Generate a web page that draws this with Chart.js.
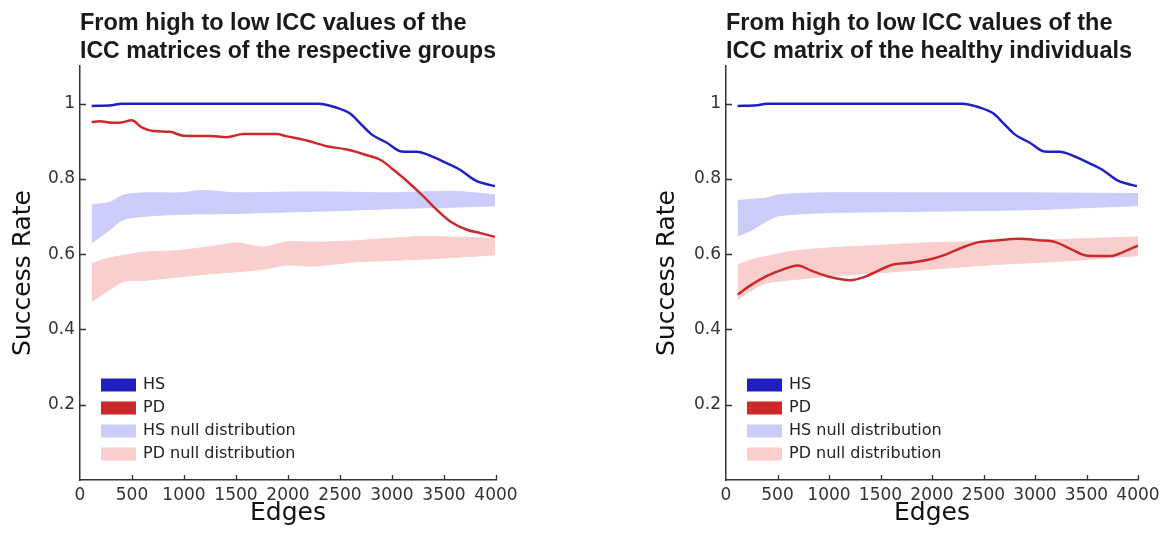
<!DOCTYPE html>
<html>
<head>
<meta charset="utf-8">
<script src="https://cdn.jsdelivr.net/npm/chart.js@4"></script>
<style>
  html, body { margin: 0; padding: 0; background: #ffffff; }
  #c1 { position: absolute; left: 0px; top: 0px; }
  #c2 { position: absolute; left: 645px; top: 0px; }
</style>
</head>
<body>
<canvas id="c1" width="560" height="540"></canvas>
<canvas id="c2" width="522" height="540"></canvas>
<script>
// ---------------- data ----------------
const titleLeft = ['From high to low ICC values of the', 'ICC matrices of the respective groups'];
const titleRight = ['From high to low ICC values of the', 'ICC matrix of the healthy individuals'];
const legendNames = ['HS', 'PD', 'HS null distribution', 'PD null distribution'];
const xTickValues = [0, 500, 1000, 1500, 2000, 2500, 3000, 3500, 4000];
const yTickValues = [0.2, 0.4, 0.6, 0.8, 1];

// HS success rate (same in both panels)
const hsEdges = [112, 304, 400, 1000, 2290, 2470, 2600, 2690, 2800, 2950, 3090, 3240, 3365, 3525, 3650, 3800, 3895, 3990];
const hsRate  = [0.994, 0.996, 1.0, 1.0, 1.0, 0.989, 0.973, 0.949, 0.919, 0.896, 0.873, 0.872, 0.862, 0.842, 0.825, 0.796, 0.787, 0.781];

// Left panel: PD
const pdLeftEdges = [112, 192, 304, 400, 497, 593, 705, 865, 994, 1250, 1410, 1570, 1890, 1990, 2180, 2370, 2565, 2760, 2900, 3010, 3140, 3300, 3430, 3560, 3720, 3850, 3990];
const pdLeftRate  = [0.951, 0.953, 0.949, 0.950, 0.956, 0.937, 0.927, 0.925, 0.915, 0.914, 0.911, 0.919, 0.919, 0.913, 0.902, 0.887, 0.878, 0.863, 0.849, 0.825, 0.795, 0.754, 0.718, 0.687, 0.665, 0.656, 0.646];

// Left panel: null distribution envelopes
const hsNullLeftEdges = [112, 288, 417, 641, 961, 1186, 1442, 1603, 1987, 2500, 2981, 3590, 3990];
const hsNullLeftLow   = [0.630, 0.665, 0.692, 0.701, 0.706, 0.707, 0.708, 0.709, 0.712, 0.716, 0.721, 0.725, 0.729];
const hsNullLeftHigh  = [0.731, 0.738, 0.757, 0.763, 0.763, 0.769, 0.764, 0.763, 0.765, 0.765, 0.763, 0.767, 0.758];
const pdNullLeftEdges = [112, 256, 417, 641, 961, 1346, 1506, 1763, 1987, 2211, 2500, 2660, 2981, 3301, 3990];
const pdNullLeftLow   = [0.474, 0.500, 0.527, 0.531, 0.540, 0.550, 0.553, 0.560, 0.571, 0.568, 0.575, 0.580, 0.583, 0.587, 0.598];
const pdNullLeftHigh  = [0.575, 0.588, 0.597, 0.606, 0.610, 0.624, 0.630, 0.619, 0.633, 0.632, 0.634, 0.636, 0.642, 0.647, 0.642];

// Right panel: PD
const pdRightEdges = [113, 226, 388, 549, 694, 840, 1001, 1211, 1357, 1615, 1809, 2003, 2132, 2326, 2455, 2649, 2842, 3036, 3198, 3359, 3505, 3731, 3876, 4000];
const pdRightRate  = [0.493, 0.515, 0.541, 0.559, 0.570, 0.555, 0.540, 0.531, 0.541, 0.572, 0.578, 0.588, 0.599, 0.621, 0.632, 0.637, 0.641, 0.637, 0.632, 0.612, 0.596, 0.595, 0.608, 0.623];

// Right panel: null distribution envelopes
const hsNullRightEdges = [113, 258, 388, 517, 969, 1938, 2907, 4000];
const hsNullRightLow   = [0.648, 0.665, 0.687, 0.702, 0.710, 0.714, 0.718, 0.729];
const hsNullRightHigh  = [0.743, 0.746, 0.749, 0.758, 0.763, 0.763, 0.763, 0.761];
const pdNullRightEdges = [113, 258, 388, 646, 969, 1453, 1938, 2584, 3230, 4000];
const pdNullRightLow   = [0.479, 0.506, 0.523, 0.532, 0.541, 0.550, 0.559, 0.572, 0.581, 0.596];
const pdNullRightHigh  = [0.572, 0.586, 0.594, 0.608, 0.616, 0.623, 0.630, 0.634, 0.639, 0.646];

// ---------------- styling ----------------
const COL_HS = 'rgb(32,32,192)';
const COL_PD = 'rgb(204,42,42)';
const COL_HS_NULL = 'rgb(204,204,250)';
const COL_PD_NULL = 'rgb(251,206,206)';
const legendColors = [COL_HS, COL_PD, COL_HS_NULL, COL_PD_NULL];
const FONT = '"DejaVu Sans", "Liberation Sans", sans-serif';

Chart.defaults.font.family = FONT;
Chart.defaults.color = '#222';

function pts(xs, ys) { return xs.map((x, i) => ({ x: x, y: ys[i] })); }

function lineDs(label, xs, ys, color) {
  return { label, data: pts(xs, ys), borderColor: color, backgroundColor: color,
           borderWidth: 2.5, pointRadius: 0, fill: false, cubicInterpolationMode: 'monotone' };
}
function bandDs(label, xs, ys, color, fillTarget) {
  return { label, data: pts(xs, ys), borderColor: color, backgroundColor: color,
           borderWidth: 1, pointRadius: 0, tension: 0.3,
           fill: fillTarget === null ? false : { target: fillTarget } };
}

const insetLegend = {
  id: 'insetLegend',
  afterDraw(chart) {
    const { ctx, chartArea } = chart;
    ctx.save();
    ctx.font = '16px ' + FONT;
    ctx.textBaseline = 'middle';
    ctx.textAlign = 'left';
    legendNames.forEach((name, i) => {
      const cy = chartArea.bottom - 95 + i * 23;
      ctx.fillStyle = legendColors[i];
      ctx.fillRect(chartArea.left + 21, cy - 6.5, 35, 13);
      ctx.fillStyle = '#222';
      ctx.fillText(name, chartArea.left + 63, cy);
    });
    ctx.restore();
  }
};

const inwardTicks = {
  id: 'inwardTicks',
  afterDraw(chart) {
    const { ctx, chartArea, scales } = chart;
    ctx.save();
    ctx.strokeStyle = '#333';
    ctx.lineWidth = 1.3;
    ctx.beginPath();
    yTickValues.forEach(v => {
      const y = Math.round(scales.y.getPixelForValue(v)) + 0.5;
      ctx.moveTo(chartArea.left, y); ctx.lineTo(chartArea.left + 6, y);
    });
    xTickValues.forEach(v => {
      if (v === 0) return;
      const x = Math.round(scales.x.getPixelForValue(v)) + 0.5;
      ctx.moveTo(x, chartArea.bottom); ctx.lineTo(x, chartArea.bottom - 5);
    });
    ctx.stroke();
    ctx.restore();
  }
};

function makeChart(canvasId, titleLines, pdEdges, pdRate, hsNE, hsNL, hsNH, pdNE, pdNL, pdNH, yAxisWidth, padRight, yTitlePad) {
  return new Chart(document.getElementById(canvasId), {
    type: 'line',
    data: {
      datasets: [
        lineDs('HS', hsEdges, hsRate, COL_HS),
        lineDs('PD', pdEdges, pdRate, COL_PD),
        bandDs('HS null distribution (low)', hsNE, hsNL, COL_HS_NULL, null),
        bandDs('HS null distribution', hsNE, hsNH, COL_HS_NULL, 2),
        bandDs('PD null distribution (low)', pdNE, pdNL, COL_PD_NULL, null),
        bandDs('PD null distribution', pdNE, pdNH, COL_PD_NULL, 4)
      ]
    },
    options: {
      responsive: false,
      animation: false,
      layout: { padding: { left: 0, right: padRight, top: 0, bottom: 0 } },
      plugins: {
        legend: { display: false },
        tooltip: { enabled: false },
        title: {
          display: true,
          text: titleLines,
          align: 'start',
          fullSize: false,
          color: '#1a1a1a',
          font: { family: '"Liberation Sans", Arial, sans-serif', size: 23.5, weight: 'bold', lineHeight: '28px' },
          padding: { top: 10, bottom: 0 }
        }
      },
      scales: {
        x: {
          type: 'linear',
          min: 0, max: 4000,
          afterBuildTicks(scale) { scale.ticks = xTickValues.map(v => ({ value: v })); },
          afterFit(scale) { scale.height = 60; },
          ticks: { color: '#333', font: { size: 17 }, padding: 5, maxRotation: 0, autoSkip: false,
                   callback: v => String(v) },
          grid: { display: false, drawTicks: false },
          border: { display: true, color: '#333', width: 1.5 },
          title: { display: true, text: 'Edges', color: '#111', font: { size: 25 }, padding: { top: 0, bottom: 12 } }
        },
        y: {
          min: 0, max: 1.1,
          afterBuildTicks(scale) { scale.ticks = yTickValues.map(v => ({ value: v })); },
          afterFit(scale) { scale.width = yAxisWidth; },
          ticks: { color: '#333', font: { size: 17 }, padding: 5,
                   callback: v => String(Math.round(v * 10) / 10) },
          grid: { display: false, drawTicks: false },
          border: { display: true, color: '#333', width: 1.5 },
          title: { display: true, text: 'Success Rate', color: '#111', font: { size: 25 }, padding: { top: yTitlePad, bottom: 0 } }
        }
      }
    },
    plugins: [insetLegend, inwardTicks]
  });
}

makeChart('c1', titleLeft, pdLeftEdges, pdLeftRate,
          hsNullLeftEdges, hsNullLeftLow, hsNullLeftHigh,
          pdNullLeftEdges, pdNullLeftLow, pdNullLeftHigh, 80, 64, 8);
makeChart('c2', titleRight, pdRightEdges, pdRightRate,
          hsNullRightEdges, hsNullRightLow, hsNullRightHigh,
          pdNullRightEdges, pdNullRightLow, pdNullRightHigh, 81, 29, 7);
</script>
</body>
</html>
